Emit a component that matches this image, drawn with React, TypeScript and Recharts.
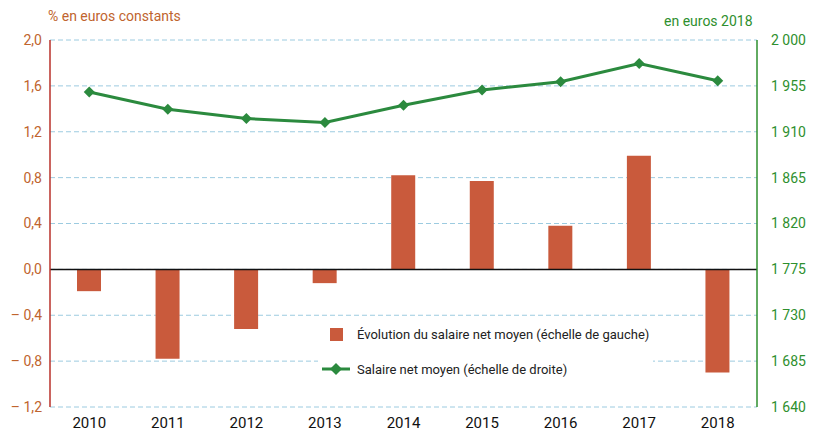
import React from 'react';
import {
    ComposedChart,
    Bar,
    Line,
    XAxis,
    YAxis,
    CartesianGrid,
    ReferenceLine
} from 'recharts';

const years = ['2010', '2011', '2012', '2013', '2014', '2015', '2016', '2017', '2018'];
const evolution = [-0.19, -0.78, -0.52, -0.12, 0.82, 0.77, 0.38, 0.99, -0.9];
const salaire = [1949, 1932, 1923, 1919, 1936, 1951, 1959, 1977, 1960];
const leftTicks = [-1.2, -0.8, -0.4, 0, 0.4, 0.8, 1.2, 1.6, 2.0];
const rightTicks = [1640, 1685, 1730, 1775, 1820, 1865, 1910, 1955, 2000];

const BAR_COLOR = '#c95a3c';
const LINE_COLOR = '#2b8a3e';
const LEFT_TEXT = '#c0642e';
const RIGHT_TEXT = '#2e8f2e';
const FONT = 'Roboto, "Liberation Sans", sans-serif';

const data = years.map((year, i) => ({
    year,
    evolution: evolution[i],
    salaire: salaire[i]
}));

const fmtLeft = (v: number) => {
    const s = Math.abs(v).toFixed(1).replace('.', ',');
    return v < 0 ? `\u2013 ${s}` : s;
};

const fmtRight = (v: number) => {
    const s = String(v);
    return s.length > 3 ? `${s.slice(0, s.length - 3)} ${s.slice(-3)}` : s;
};

const Diamond = ({ cx, cy }: any) => {
    if (cx == null || cy == null) return null;
    const r = 5.5;
    return (
        <polygon
            points={`${cx},${cy - r} ${cx + r},${cy} ${cx},${cy + r} ${cx - r},${cy}`}
            fill={LINE_COLOR}
        />
    );
};

// legend drawn outside the chart so it does not eat plot height
const ChartLegend = () => (
    <div style={{
        position: 'absolute', left: 318, top: 322, fontFamily: FONT,
        fontSize: 13, color: '#222', background: '#fff', padding: '0 4px'
    }}>
        <div style={{ display: 'flex', alignItems: 'center', height: 24 }}>
            <div style={{ width: 28, display: 'flex', justifyContent: 'center' }}>
                <div style={{ width: 13, height: 13, background: BAR_COLOR }} />
            </div>
            <span style={{ marginLeft: 7 }}>Évolution du salaire net moyen (échelle de gauche)</span>
        </div>
        <div style={{ display: 'flex', alignItems: 'center', height: 24, marginTop: 11 }}>
            <svg width={28} height={14}>
                <line x1={0} y1={7} x2={28} y2={7} stroke={LINE_COLOR} strokeWidth={3} />
                <polygon points="14,1 20,7 14,13 8,7" fill={LINE_COLOR} />
            </svg>
            <span style={{ marginLeft: 7 }}>Salaire net moyen (échelle de droite)</span>
        </div>
    </div>
);

const App = () => {
    return (
        <div style={{ position: 'absolute', left: 0, top: 0, width: 819, height: 434, background: '#fff' }}>
            <div style={{
                position: 'absolute', left: 48, top: 8, fontFamily: FONT,
                fontSize: 14, color: LEFT_TEXT
            }}>
                % en euros constants
            </div>
            <div style={{
                position: 'absolute', left: 664, top: 13, fontFamily: FONT,
                fontSize: 14, color: RIGHT_TEXT
            }}>
                en euros 2018
            </div>
            <ComposedChart
                width={819}
                height={434}
                data={data}
                margin={{ top: 40, right: 5, bottom: 7, left: 5 }}
                barCategoryGap="35%"
            >
                <CartesianGrid
                    vertical={false}
                    stroke="#9ccbe0"
                    strokeDasharray="5 3"
                    yAxisId="left"
                />
                <XAxis
                    dataKey="year"
                    height={20}
                    axisLine={false}
                    tickLine={false}
                    tick={{ fill: '#111', fontSize: 15, fontFamily: FONT }}
                    dy={2}
                />
                <YAxis
                    yAxisId="left"
                    orientation="left"
                    width={45}
                    domain={[-1.2, 2.0]}
                    ticks={leftTicks}
                    tickFormatter={fmtLeft}
                    axisLine={{ stroke: '#b8312a', strokeWidth: 1.5 }}
                    tickLine={false}
                    tick={{ fill: LEFT_TEXT, fontSize: 14, fontFamily: FONT }}
                    interval={0}
                />
                <YAxis
                    yAxisId="right"
                    orientation="right"
                    width={57}
                    domain={[1640, 2000]}
                    ticks={rightTicks}
                    tickFormatter={fmtRight}
                    axisLine={{ stroke: '#2e8f2e', strokeWidth: 1.5 }}
                    tickLine={false}
                    tick={{ fill: RIGHT_TEXT, fontSize: 14, fontFamily: FONT, dx: 6 }}
                    interval={0}
                />
                <ReferenceLine yAxisId="left" y={0} stroke="#111" strokeWidth={1.5} />
                <Bar
                    yAxisId="left"
                    dataKey="evolution"
                    fill={BAR_COLOR}
                    barSize={24}
                    isAnimationActive={false}
                />
                <Line
                    yAxisId="right"
                    dataKey="salaire"
                    stroke={LINE_COLOR}
                    strokeWidth={3}
                    dot={<Diamond />}
                    activeDot={false}
                    isAnimationActive={false}
                />
            </ComposedChart>
            <ChartLegend />
        </div>
    );
};

export default App;
